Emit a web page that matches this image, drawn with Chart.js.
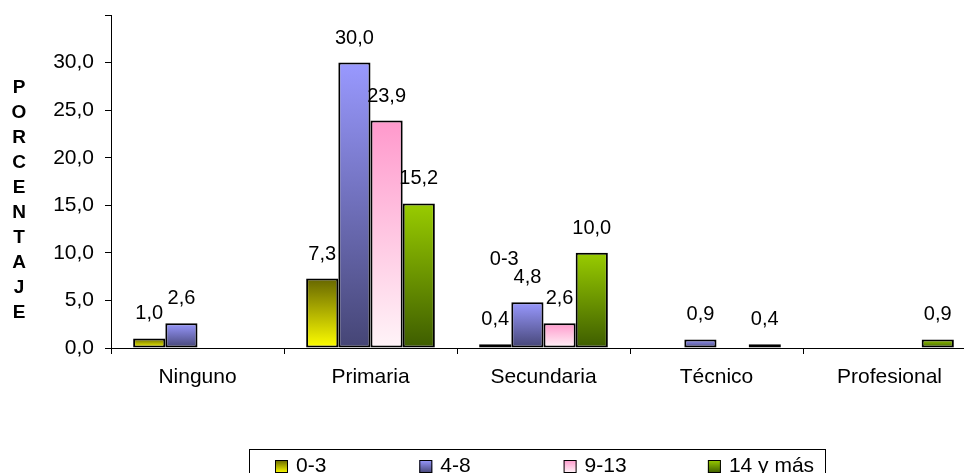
<!DOCTYPE html>
<html>
<head>
<meta charset="utf-8">
<script src="https://cdn.jsdelivr.net/npm/chart.js@4.4.1/dist/chart.umd.min.js"></script>
<style>
  html, body { margin: 0; padding: 0; background: #fff; overflow: hidden; }
  #wrap { width: 990px; height: 473px; }
</style>
</head>
<body>
<div id="wrap"><canvas id="grafico" width="990" height="473"></canvas></div>
<script>
// Datos del gráfico
const categorias = ["Ninguno", "Primaria", "Secundaria", "Técnico", "Profesional"];
const series = ["0-3", "4-8", "9-13", "14 y más"];
const valores03 = [1.0, 7.3, 0.4, 0, 0];
const valores48 = [2.6, 30.0, 4.8, 0.9, 0];
const valores913 = [0, 23.9, 2.6, 0, 0];
const valores14 = [0, 15.2, 10.0, 0.4, 0.9];
const ticksY = [0, 5, 10, 15, 20, 25, 30];

// Colores de degradado (arriba, abajo)
const colores = [
  ["#666600", "#ffff00"],
  ["#9999ff", "#454575"],
  ["#ff99cc", "#fff4f8"],
  ["#99cc00", "#3d5c00"]
];

const fuente = '"Liberation Sans", Arial, sans-serif';
const formato = v => v.toFixed(1).replace(".", ",");

function relleno(i) {
  return (c) => {
    if (c.type !== "data") return colores[i][0];
    const y = c.chart.scales.y;
    const arriba = y.getPixelForValue(c.raw);
    const abajo = y.getPixelForValue(0);
    if (!isFinite(arriba) || arriba === abajo) return colores[i][0];
    const g = c.chart.ctx.createLinearGradient(0, arriba, 0, abajo);
    g.addColorStop(0, colores[i][0]);
    g.addColorStop(1, colores[i][1]);
    return g;
  };
}

// Rótulos de datos, título vertical y leyenda con marco
const extras = {
  id: "extras",
  afterDraw(chart) {
    const ctx = chart.ctx;
    ctx.save();
    ctx.fillStyle = "#000";

    // Valores sobre las barras
    ctx.font = "20px " + fuente;
    ctx.textAlign = "center";
    ctx.textBaseline = "alphabetic";
    chart.data.datasets.forEach((ds, i) => {
      chart.getDatasetMeta(i).data.forEach((bar, j) => {
        const v = ds.data[j];
        if (!v) return;
        ctx.fillText(formato(v), bar.x, bar.y - 19);
      });
    });
    // rótulo suelto de la serie sobre Secundaria
    const b = chart.getDatasetMeta(0).data[2];
    ctx.fillText(series[0], b.x + 9, b.y - 79);

    // Título del eje Y en letras apiladas
    ctx.font = "bold 19px " + fuente;
    ctx.textBaseline = "middle";
    "PORCENTAJE".split("").forEach((letra, k) => {
      ctx.fillText(letra, 19, 88 + k * 25);
    });

    // Leyenda
    ctx.strokeStyle = "#000";
    ctx.lineWidth = 1;
    ctx.strokeRect(249.5, 449.5, 576, 40);
    ctx.font = "21px " + fuente;
    ctx.textAlign = "left";
    ctx.textBaseline = "alphabetic";
    series.forEach((nombre, i) => {
      const x = 275 + i * 144.3;
      const g = ctx.createLinearGradient(0, 460, 0, 473);
      g.addColorStop(0, colores[i][0]);
      g.addColorStop(1, colores[i][1]);
      ctx.fillStyle = g;
      ctx.fillRect(x, 460, 13, 13);
      ctx.strokeRect(x + 0.5, 460.5, 12, 12);
      ctx.fillStyle = "#000";
      ctx.fillText(nombre, x + 21, 472);
    });
    ctx.restore();
  }
};

const datos = [valores03, valores48, valores913, valores14];

new Chart(document.getElementById("grafico").getContext("2d"), {
  type: "bar",
  data: {
    labels: categorias,
    datasets: datos.map((d, i) => ({
      label: series[i],
      data: d,
      backgroundColor: relleno(i),
      borderColor: "#000",
      borderWidth: 2,
      borderSkipped: false,
      barPercentage: 1,
      categoryPercentage: 0.744
    }))
  },
  options: {
    responsive: false,
    animation: false,
    devicePixelRatio: 1,
    layout: { padding: { top: 15, right: 14, bottom: 85, left: 0 } },
    plugins: { legend: { display: false }, tooltip: { enabled: false } },
    scales: {
      x: {
        ticks: { color: "#000", font: { size: 21, family: fuente }, padding: 11, maxRotation: 0 },
        grid: { drawOnChartArea: false, tickLength: 6, color: "#000", offset: true },
        border: { color: "#000", width: 1 },
        afterFit: s => { s.height = 40; s.paddingLeft = 0; s.paddingRight = 0; }
      },
      y: {
        min: 0,
        max: 35,
        afterBuildTicks: s => {
          s.ticks = ticksY.concat([35]).map(v => ({ value: v }));
        },
        ticks: {
          color: "#000",
          font: { size: 21, family: fuente },
          padding: 11,
          callback: v => (ticksY.includes(v) ? formato(v) : "")
        },
        grid: { drawOnChartArea: false, tickLength: 6, color: "#000" },
        border: { color: "#000", width: 1 },
        afterFit: s => { s.width = 111; s.paddingTop = 0; s.paddingBottom = 0; }
      }
    }
  },
  plugins: [extras]
});
</script>
</body>
</html>
